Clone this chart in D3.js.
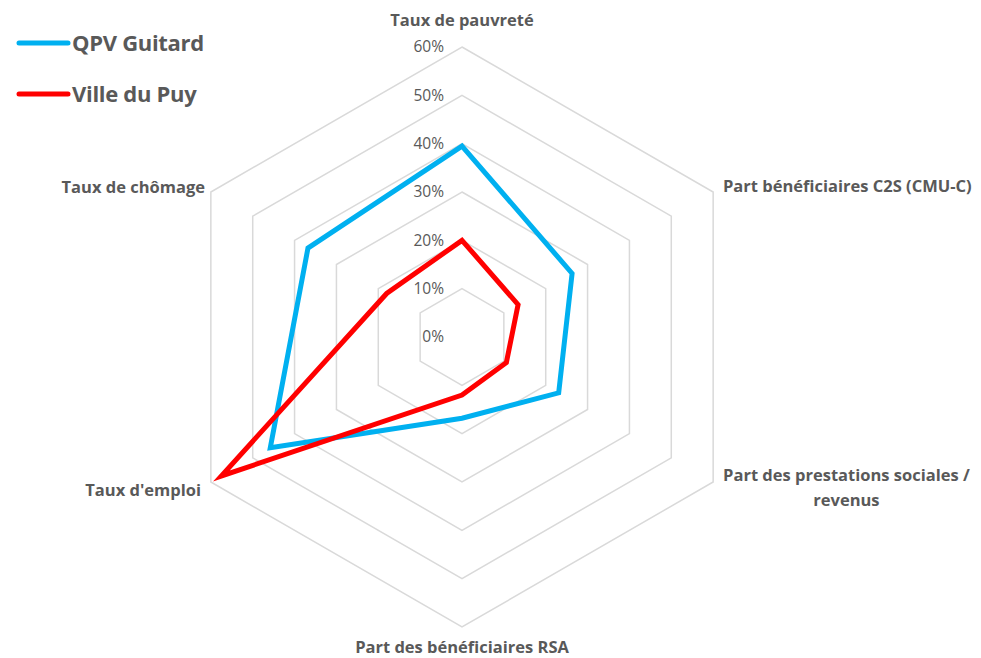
<!DOCTYPE html>
<html>
<head>
<meta charset="utf-8">
<script src="https://cdn.jsdelivr.net/npm/d3@7"></script>
<style>
  html, body { margin: 0; padding: 0; background: #fff; }
  svg text { font-family: "Open Sans", Lato, sans-serif; fill: #595959; }
</style>
</head>
<body>
<div id="chart"></div>
<script>
// ── DATA ─────────────────────────────────────
const AXES = [
  ['Taux de pauvreté'],
  ['Part bénéficiaires C2S (CMU-C)'],
  ['Part des prestations sociales /', 'revenus'],
  ['Part des bénéficiaires RSA'],
  ["Taux d'emploi"],
  ['Taux de chômage']
];
const QPV = [0.395, 0.263, 0.231, 0.168, 0.458, 0.368];
const VILLE = [0.20, 0.134, 0.106, 0.12, 0.575, 0.18];
const TICKS = [0, 0.1, 0.2, 0.3, 0.4, 0.5, 0.6];
const SERIES = [
  { name: 'QPV Guitard', values: QPV, color: '#00B0F0' },
  { name: 'Ville du Puy', values: VILLE, color: '#FF0000' }
];

// ── SETUP ────────────────────────────────────
const W = 981, H = 658;
const cx = 462, cy = 337;

const svg = d3.select('#chart').append('svg')
  .attr('width', W).attr('height', H);

const g = svg.append('g').attr('transform', `translate(${cx},${cy})`);

const r = d3.scaleLinear().domain([0, 0.6]).range([0, 290]);
const step = 2 * Math.PI / AXES.length;
const ang = i => i * step;

const radial = d3.lineRadial()
  .angle((d, i) => ang(i))
  .radius(d => r(d))
  .curve(d3.curveLinearClosed);

// ── GRID ─────────────────────────────────────
TICKS.filter(t => t > 0).forEach(t => {
  g.append('path')
    .attr('d', radial(AXES.map(() => t)))
    .attr('fill', 'none')
    .attr('stroke', '#D9D9D9')
    .attr('stroke-width', 1.5);
});

// tick labels
g.selectAll('.tick-label')
  .data(TICKS)
  .enter()
  .append('text')
  .attr('class', 'tick-label')
  .attr('x', -18)
  .attr('y', d => -r(d))
  .attr('dy', '0.35em')
  .attr('text-anchor', 'end')
  .attr('font-size', 15.5)
  .text(d3.format('.0%'));

// ── SERIES ───────────────────────────────────
SERIES.forEach(s => {
  g.append('path')
    .attr('d', radial(s.values))
    .attr('fill', 'none')
    .attr('stroke', s.color)
    .attr('stroke-width', 5)
    .attr('stroke-linejoin', 'miter');
});

// ── AXIS LABELS ──────────────────────────────
const labelPos = [
  { x: 0, y: -317, anchor: 'middle' },
  { x: 261, y: -151, anchor: 'start' },
  { x: 261, y: 138, anchor: 'start', center: true },
  { x: 0, y: 310, anchor: 'middle' },
  { x: -261, y: 153, anchor: 'end' },
  { x: -257, y: -150, anchor: 'end' }
];

AXES.forEach((lines, i) => {
  const p = labelPos[i];
  const t = g.append('text')
    .attr('font-size', 16.5)
    .attr('font-weight', 'bold')
    .attr('text-anchor', p.center ? 'middle' : p.anchor)
    .attr('y', p.y);
  lines.forEach((ln, j) => {
    t.append('tspan')
      .attr('x', p.x)
      .attr('dy', j === 0 ? '0.35em' : '1.5em')
      .text(ln);
  });
  if (p.center) {
    // keep left edge at p.x, centre the lines on the widest one
    const w = t.node().getBBox().width;
    t.selectAll('tspan').attr('x', p.x + w / 2);
  }
});

// ── LEGEND ───────────────────────────────────
const legend = svg.append('g');
SERIES.forEach((s, i) => {
  const y = 43 + i * 51;
  legend.append('line')
    .attr('x1', 19).attr('x2', 68)
    .attr('y1', y).attr('y2', y)
    .attr('stroke', s.color)
    .attr('stroke-width', 5)
    .attr('stroke-linecap', 'round');
  legend.append('text')
    .attr('x', 72)
    .attr('y', y)
    .attr('dy', '0.35em')
    .attr('font-size', 22)
    .attr('font-weight', 'bold')
    .attr('letter-spacing', -0.3)
    .text(s.name);
});
</script>
</body>
</html>
